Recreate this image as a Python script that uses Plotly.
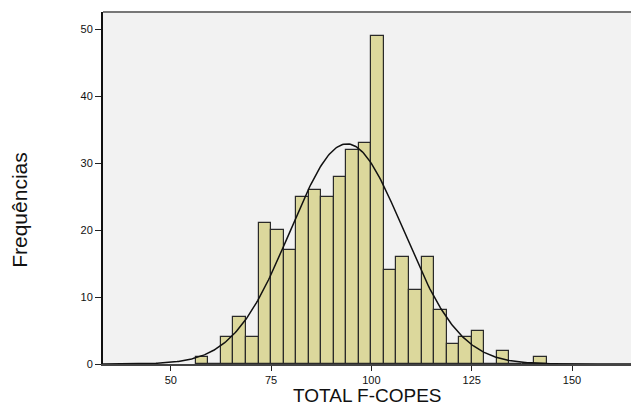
import numpy as np
import plotly.graph_objects as go

# Histogram data
bin_start = 56.23
bin_width = 3.126
counts = [1, 0, 4, 7, 4, 21, 20, 17, 25, 26, 25, 28, 32, 33, 49,
          14, 16, 11, 16, 8, 3, 4, 5, 0, 2, 0, 0, 1]
# Fitted normal curve parameters
mean_val = 93.9
sd_val = 14.1
n_total = sum(counts)

x_ticks = [50, 75, 100, 125, 150]
y_ticks = [0, 10, 20, 30, 40, 50]

centers = [bin_start + bin_width * (i + 0.5) for i in range(len(counts))]

xc = np.linspace(33.1, 164.7, 400)
yc = n_total * bin_width / (sd_val * np.sqrt(2 * np.pi)) * np.exp(-0.5 * ((xc - mean_val) / sd_val) ** 2)

fig = go.Figure()
fig.add_trace(go.Bar(
    x=centers, y=counts, width=bin_width,
    marker=dict(color="#dcd89c", line=dict(color="#2a2a2a", width=1.2)),
    showlegend=False, hoverinfo="x+y"))
fig.add_trace(go.Scatter(
    x=xc, y=yc, mode="lines", line=dict(color="#111111", width=1.5),
    showlegend=False))

fig.update_layout(
    width=631, height=405,
    margin=dict(l=103, r=0, t=12, b=41),
    paper_bgcolor="white", plot_bgcolor="#f2f2f2",
    font=dict(family="Liberation Sans, Arial, sans-serif", color="#111111"),
    bargap=0,
    xaxis=dict(range=[33.1, 164.7], tickvals=x_ticks, ticks="outside", ticklen=5,
               tickcolor="#222", tickfont=dict(size=11), showgrid=False, zeroline=False,
               showline=True, linecolor="#444", linewidth=2),
    yaxis=dict(range=[0, 52.6], tickvals=y_ticks, ticks="outside", ticklen=6,
               tickcolor="#222", tickfont=dict(size=11), showgrid=False, zeroline=False,
               showline=True, linecolor="#111", linewidth=2),
    shapes=[dict(type="line", xref="paper", yref="paper", x0=0, x1=1, y0=1, y1=1,
                 line=dict(color="#777777", width=2))],
    annotations=[
        dict(text="Frequências", xref="paper", yref="paper", x=0, y=0.438,
             xshift=-83, textangle=-90, showarrow=False, xanchor="center", yanchor="middle",
             font=dict(size=21, color="#111")),
        dict(text="TOTAL F-COPES", xref="paper", yref="paper", x=0.5, y=0,
             yshift=-31, showarrow=False, xanchor="center", yanchor="middle",
             font=dict(size=19, color="#111")),
    ],
)

fig.write_html("out.html", config={"displayModeBar": False},
               post_script="document.body.style.margin='0px';")
